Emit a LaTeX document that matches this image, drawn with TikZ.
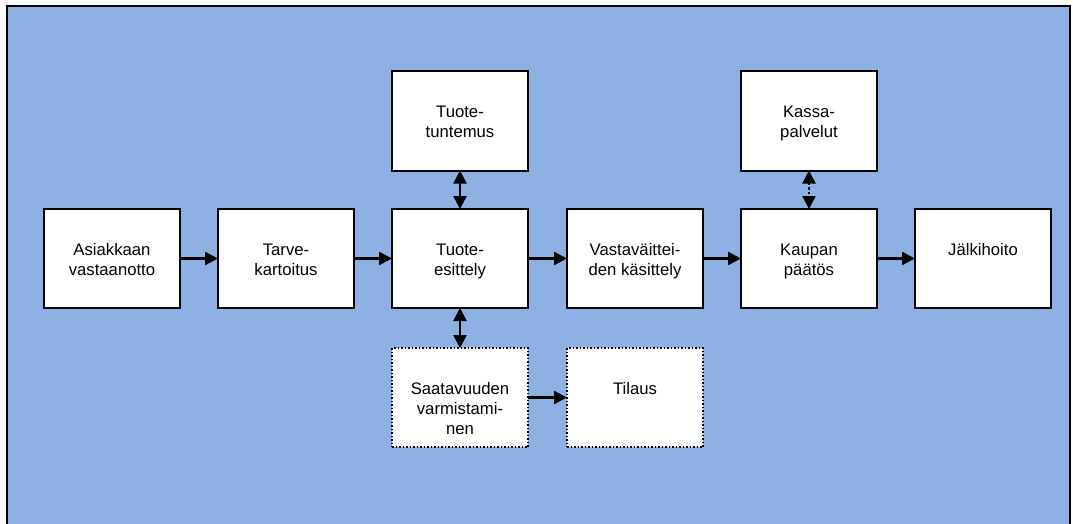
\documentclass[tikz,border=0pt]{standalone}
\usepackage{fontspec}
\setmainfont{Liberation Sans}
\usetikzlibrary{arrows.meta,calc}
\definecolor{panel}{HTML}{8DB1E2}
\tikzset{
  stepbox/.style={draw=black, line width=2pt, fill=white, minimum width=136pt,
    minimum height=99pt, inner sep=0pt, outer sep=0pt},
  optbox/.style={stepbox, line width=1.5pt, dotted},
  boxtext/.style={anchor=north, inner sep=0pt, align=center,
    font=\fontsize{16.7}{20}\selectfont},
  flow/.style={line width=2.5pt, -{Triangle[length=13pt,width=13pt]}},
  twoway/.style={line width=2.5pt, {Triangle[length=13pt,width=13pt]}-{Triangle[length=13pt,width=13pt]}},
}
% place a box and set its caption from the top edge down
\newcommand\phasebox[4][stepbox]{%
  \node[#1] (#2) at (#3) {};
  \node[boxtext] (#2-text) at ($(#2.north)+(0,32)$) {\strut #4};
}
\begin{document}
\begin{tikzpicture}[x=1pt,y=-1pt]
  \useasboundingbox (0,0) rectangle (1073,524);
  % panel behind the process
  \draw[line width=2.5pt, fill=panel] (7,6) rectangle (1070,530);

  % main process row
  \phasebox{recv}{112,258.5}{Asiakkaan\\vastaanotto}
  \phasebox{need}{286,258.5}{Tarve-\\kartoitus}
  \phasebox{demo}{460,258.5}{Tuote-\\esittely}
  \phasebox{objc}{635,258.5}{Vastaväittei-\\den käsittely}
  \phasebox{deal}{809,258.5}{Kaupan\\päätös}
  \phasebox{care}{983,258.5}{Jälkihoito}

  % supporting steps above
  \phasebox{know}{460,121}{Tuote-\\tuntemus}
  \phasebox{cash}{809,121}{Kassa-\\palvelut}

  % optional steps below
  \phasebox[optbox]{stock}{460,397.5}{Saatavuuden\\varmistami-\\nen}
  \phasebox[optbox]{order}{635,397.5}{Tilaus}

  % connectors
  \draw[flow] (recv) -- (need);
  \draw[flow] (need) -- (demo);
  \draw[flow] (demo) -- (objc);
  \draw[flow] (objc) -- (deal);
  \draw[flow] (deal) -- (care);
  \draw[twoway] (know) -- (demo);
  \draw[twoway] (demo) -- (stock);
  \draw[twoway, dotted] (cash) -- (deal);
  \draw[flow] (stock) -- (order);
\end{tikzpicture}
\end{document}
